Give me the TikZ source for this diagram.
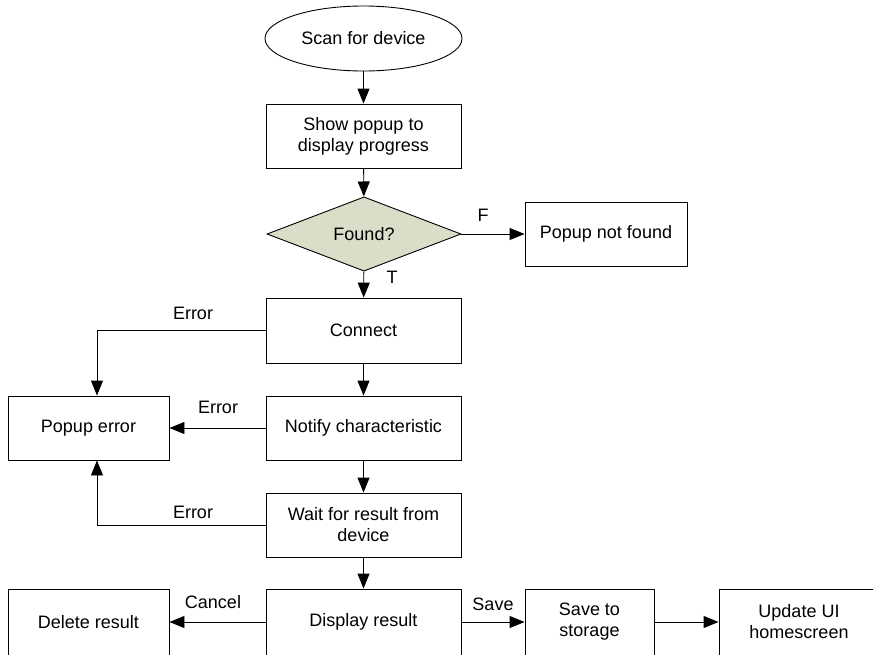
\documentclass[tikz,border=0pt]{standalone}
\usepackage{fontspec}
\setmainfont{Liberation Sans}
\usetikzlibrary{shapes.geometric,arrows.meta,positioning}
\definecolor{decisionfill}{RGB}{218,221,200}
\tikzset{
  every node/.style={font=\fontsize{18}{21}\selectfont},
  box/.style={draw, line width=0.9pt, rectangle, inner sep=0pt, align=center,
              minimum height=64pt},
  terminal/.style={draw, line width=0.9pt, ellipse, inner sep=0pt,
                   minimum width=197pt, minimum height=65pt},
  decision/.style={draw, line width=0.9pt, diamond, fill=decisionfill, inner sep=0pt,
                   minimum width=194pt, minimum height=66pt},
  flow/.style={draw, line width=0.9pt, -{Triangle[length=15pt,width=12pt]}},
  lbl/.style={inner sep=0pt}
}
\begin{document}
\begin{tikzpicture}[x=1pt,y=-1pt]
  \useasboundingbox (0,0) rectangle (873,654);
  \clip (0,0) rectangle (873,654);

  % main column
  \node[terminal] (scan) at (363.5,38.5) {Scan for device};
  \node[box, minimum width=195pt] (show) at (363.5,136) {Show popup to\\display progress};
  \node[decision] (found) at (364,234) {Found?};
  \node[box, minimum width=162pt] (notfound) at (606,234) {Popup not found};
  \node[box, minimum width=195pt, minimum height=65pt] (connect) at (363.5,330.5) {Connect};
  \node[box, minimum width=195pt] (notify) at (363.5,428) {Notify characteristic};
  \node[box, minimum width=195pt] (wait) at (363.5,525) {Wait for result from\\device};
  \node[box, minimum width=195pt, minimum height=66pt] (display) at (363.5,622) {Display result};

  % side boxes
  \node[box, minimum width=161pt] (perr) at (88.5,428) {Popup error};
  \node[box, minimum width=161pt, minimum height=66pt] (delete) at (88.5,622) {Delete result};
  \node[box, minimum width=129pt, minimum height=66pt] (save) at (589.5,622) {Save to\\storage};
  \node[box, minimum width=160pt, minimum height=66pt] (update) at (799,622) {Update UI\\homescreen};

  % error branch entry points on the error box
  \coordinate (perrtop) at ([xshift=8.5pt]perr.north);
  \coordinate (perrbot) at ([xshift=8.5pt]perr.south);

  % connectors
  \draw[flow] (scan) -- (show);
  \draw[flow] (show) -- (found);
  \draw[flow] (found) -- (notfound);
  \draw[flow] (found) -- (connect);
  \draw[flow] (connect) -- (notify);
  \draw[flow] (notify) -- (wait);
  \draw[flow] (wait) -- (display);
  \draw[flow] (connect.west) -| (perrtop);
  \draw[flow] (notify) -- (perr);
  \draw[flow] (wait.west) -| (perrbot);
  \draw[flow] (display) -- (delete);
  \draw[flow] (display) -- (save);
  \draw[flow] (save) -- (update);

  % connector labels
  \node[lbl] (lF) at (483,215) {F};
  \node[lbl] (lT) at (392,277) {T};
  \node[lbl] (lE1) at (193,313) {Error};
  \node[lbl] (lE2) at (218,407) {Error};
  \node[lbl] (lE3) at (193,512) {Error};
  \node[lbl] (lC) at (213,602) {Cancel};
  \node[lbl] (lS) at (493,604) {Save};
\end{tikzpicture}
\end{document}
